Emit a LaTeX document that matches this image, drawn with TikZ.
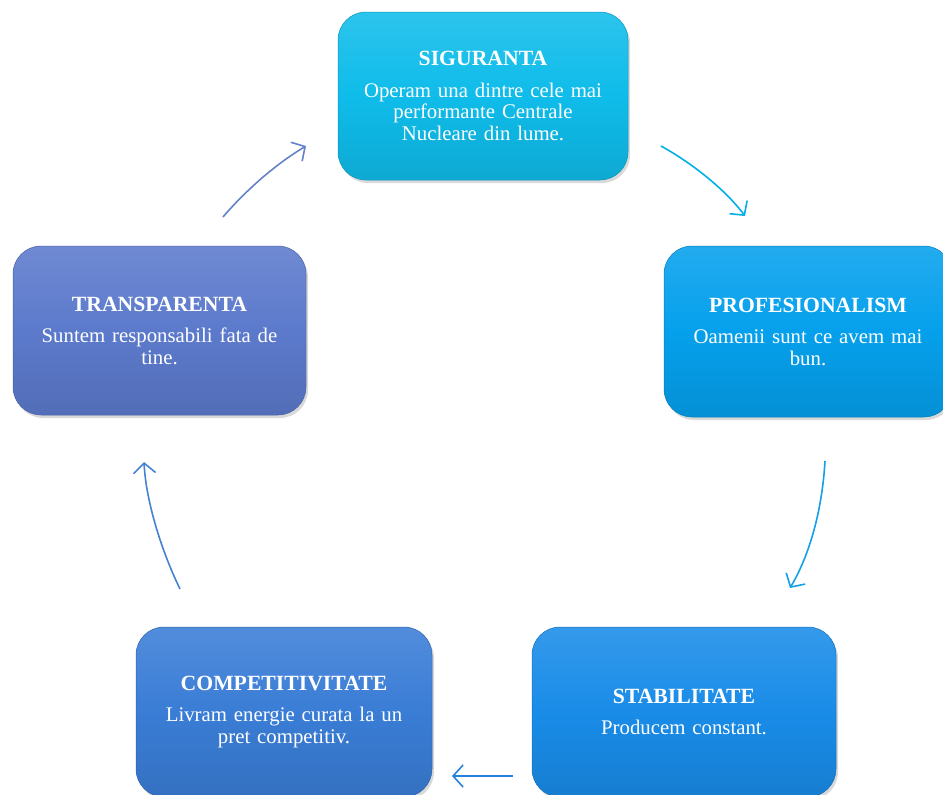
\documentclass[tikz,border=0pt]{standalone}
\usepackage{fontspec}
\setmainfont{Liberation Serif}
\usetikzlibrary{arrows.meta,shadows}
\definecolor{cSig}{RGB}{15,188,234}
\definecolor{cProf}{RGB}{5,160,236}
\definecolor{cStab}{RGB}{25,140,232}
\definecolor{cComp}{RGB}{58,125,214}
\definecolor{cTrans}{RGB}{92,122,204}
\definecolor{aOne}{RGB}{0,176,230}
\definecolor{aTwo}{RGB}{20,160,230}
\definecolor{aThree}{RGB}{40,130,220}
\definecolor{aFour}{RGB}{70,130,210}
\definecolor{aFive}{RGB}{100,130,200}
\tikzset{
  valbox/.style={rectangle, rounded corners=28pt, draw=#1!80!black, line width=0.5pt,
    top color=#1!88!white, bottom color=#1!90!black, middle color=#1,
    drop shadow={opacity=0.3, shadow xshift=2pt, shadow yshift=-3pt},
    text=white, align=center, inner sep=0pt,
    font=\fontsize{20.8}{21.5}\selectfont},
  flow/.style={line width=1.6pt, -{Straight Barb[length=10pt,width=22pt]}},
}
\newcommand{\ttl}[1]{{\fontsize{21.7}{21.5}\selectfont\bfseries #1}\\[10pt]}
\begin{document}
\begin{tikzpicture}[x=1pt,y=-1pt]
\useasboundingbox (0,0) rectangle (943,795);
\node[valbox=cSig, minimum width=290pt, minimum height=168pt, text width=270pt] (sig) at (483,96)
  {\ttl{SIGURANTA}Operam una dintre cele mai\\performante Centrale\\Nucleare din lume.};
\node[valbox=cProf, minimum width=288pt, minimum height=171pt, text width=270pt] (prof) at (808,331.5)
  {\ttl{PROFESIONALISM}Oamenii sunt ce avem mai\\bun.};
\node[valbox=cStab, minimum width=304pt, minimum height=170pt, text width=280pt] (stab) at (684,712)
  {\ttl{STABILITATE}Producem constant.};
\node[valbox=cComp, minimum width=296pt, minimum height=170pt, text width=280pt] (comp) at (284,712)
  {\ttl{COMPETITIVITATE}Livram energie curata la un\\pret competitiv.};
\node[valbox=cTrans, minimum width=293pt, minimum height=169pt, text width=280pt] (trans) at (159.5,330.5)
  {\ttl{TRANSPARENTA}Suntem responsabili fata de\\tine.};
\coordinate (a1s) at (661,146); \coordinate (a1e) at (745,216);
\coordinate (a2s) at (825,461); \coordinate (a2e) at (790,588);
\coordinate (a3s) at (513,776); \coordinate (a3e) at (452,776);
\coordinate (a4s) at (180,589); \coordinate (a4e) at (144,462);
\coordinate (a5s) at (223,217); \coordinate (a5e) at (306,146);
\draw[flow, aOne] (a1s) .. controls (690,162) and (724,188) .. (a1e);
\draw[flow, aTwo] (a2s) .. controls (822,512) and (809,556) .. (a2e);
\draw[flow, aThree] (a3s) -- (a3e);
\draw[flow, aFour] (a4s) .. controls (162,552) and (146,502) .. (a4e);
\draw[flow, aFive] (a5s) .. controls (246,190) and (276,164) .. (a5e);
\end{tikzpicture}
\end{document}
